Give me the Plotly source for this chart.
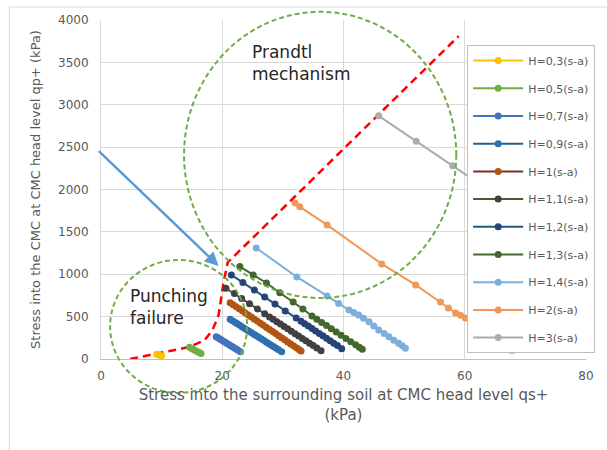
import plotly.graph_objects as go

# Stress into the surrounding soil qs+ (kPa) vs stress into the CMC qp+ (kPa)
H03_X = [9.2, 9.6, 10.0]
H03_Y = [55, 45, 38]
H05_X = [14.6, 15.0, 15.4, 15.8, 16.2, 16.5]
H05_Y = [138, 122, 105, 90, 76, 66]
H07_X = [19.0, 19.3, 19.6, 19.9, 20.2, 20.5, 20.8, 21.1, 21.4, 21.7, 22.0, 22.3, 22.6, 23.0]
H07_Y = [263, 250, 236, 223, 210, 197, 183, 170, 157, 144, 130, 117, 104, 86]
H09_X = [21.3, 21.7, 22.1, 22.5, 22.9, 23.3, 23.7, 24.1, 24.5, 24.9, 25.3, 25.7, 26.1,
         26.5, 26.9, 27.3, 27.7, 28.1, 28.5, 28.9, 29.3, 29.8]
H09_Y = [469, 451, 433, 415, 397, 379, 361, 343, 325, 307, 289, 271, 253,
         235, 217, 199, 181, 163, 145, 127, 109, 86]
H10_X = [21.3, 21.8, 22.3, 22.8, 23.3, 23.8, 24.3, 24.8, 25.3, 25.8, 26.3, 26.8, 27.3,
         27.8, 28.3, 28.8, 29.3, 29.8, 30.3, 30.8, 31.3, 31.8, 32.3, 32.7, 33.0]
H10_Y = [665, 641, 616, 592, 568, 543, 519, 495, 470, 446, 421, 397, 373,
         348, 324, 300, 275, 251, 227, 202, 178, 154, 130, 110, 95]
H11_X = [20.6, 22.0, 23.2, 24.5, 25.8, 27.0, 27.8, 28.4, 29.0, 29.6, 30.2, 30.8, 31.4,
         32.0, 32.6, 33.2, 33.8, 34.4, 35.0, 35.6, 36.3]
H11_Y = [835, 772, 713, 652, 591, 534, 497, 468, 440, 412, 384, 356, 327,
         299, 271, 243, 215, 186, 158, 130, 97]
H12_X = [21.5, 23.4, 25.3, 27.0, 28.7, 30.4, 32.2, 33.0, 33.6, 34.2, 34.8, 35.4, 36.0,
         36.6, 37.2, 37.8, 38.4, 39.0, 39.7]
H12_Y = [992, 903, 815, 732, 649, 567, 484, 446, 417, 388, 359, 330, 302,
         273, 244, 215, 186, 158, 122]
H13_X = [22.9, 25.1, 27.3, 29.5, 31.7, 33.3, 34.8, 35.6, 36.4, 37.2, 38.0, 38.8, 39.6,
         40.4, 41.2, 42.0, 42.6, 43.1]
H13_Y = [1090, 990, 897, 782, 673, 590, 508, 470, 432, 394, 357, 319, 281,
         243, 205, 167, 139, 115]
H14_X = [25.6, 32.3, 37.3, 39.2, 40.9, 41.7, 42.5, 43.3, 44.2, 45.0, 45.8, 46.7, 47.5,
         48.3, 49.1, 49.7, 50.2]
H14_Y = [1310, 968, 744, 655, 578, 549, 519, 480, 440, 390, 342, 300, 263,
         222, 185, 155, 126]
H20_X = [32.0, 32.8, 37.3, 46.3, 51.9, 56.0, 57.3, 58.5, 59.3, 60.1, 64.0, 67.8]
H20_Y = [1842, 1795, 1582, 1122, 874, 673, 602, 543, 515, 484, 300, 100]
H30_X = [45.8, 52.0, 58.0, 64.0, 70.0]
H30_Y = [2869, 2570, 2280, 1990, 1700]

# Boundary between punching failure and Prandtl mechanism
LIMIT_X = [4.8, 9.7, 14.6, 17.1, 18.4, 19.4, 19.9, 20.2, 20.9, 31.5, 59.0]
LIMIT_Y = [0, 71, 142, 224, 342, 520, 732, 897, 1140, 1880, 3810]

SERIES = [
    ("H=0,3(s-a)", H03_X, H03_Y, "#FFC000", "#FFC000"),
    ("H=0,5(s-a)", H05_X, H05_Y, "#70AD47", "#70AD47"),
    ("H=0,7(s-a)", H07_X, H07_Y, "#4472C4", "#4472C4"),
    ("H=0,9(s-a)", H09_X, H09_Y, "#255E91", "#2E70B0"),
    ("H=1(s-a)", H10_X, H10_Y, "#7B2C2C", "#B35410"),
    ("H=1,1(s-a)", H11_X, H11_Y, "#5A5233", "#404040"),
    ("H=1,2(s-a)", H12_X, H12_Y, "#1F5A7A", "#264478"),
    ("H=1,3(s-a)", H13_X, H13_Y, "#43682B", "#43682B"),
    ("H=1,4(s-a)", H14_X, H14_Y, "#7CAFDD", "#7CAFDD"),
    ("H=2(s-a)", H20_X, H20_Y, "#F1975A", "#F1975A"),
    ("H=3(s-a)", H30_X, H30_Y, "#ABABAB", "#ABABAB"),
]

X_RANGE = [0, 80]
Y_RANGE = [0, 4000]
FONT = "DejaVu Sans"
GREY = "#595959"


def frac_x(v):
    """Data value on the x axis -> fraction of the plotting area (single subplot)."""
    return (v - X_RANGE[0]) / (X_RANGE[1] - X_RANGE[0])


def frac_y(v):
    """Data value on the y axis -> fraction of the plotting area (single subplot)."""
    return (v - Y_RANGE[0]) / (Y_RANGE[1] - Y_RANGE[0])


fig = go.Figure()

fig.add_trace(go.Scatter(
    x=LIMIT_X, y=LIMIT_Y, mode="lines", showlegend=False, hoverinfo="skip",
    line=dict(color="#FF0000", width=2.5, dash="8px,5px"),
))

for i, (name, xs, ys, lc, mc) in enumerate(SERIES):
    fig.add_trace(go.Scatter(
        x=xs, y=ys, name=name, mode="lines+markers", legendgroup=f"g{i}",
        line=dict(color=lc, width=2),
        marker=dict(color=mc, size=7),
    ))

# Dashed zones: punching failure and Prandtl mechanism (may spill past the axes)
zones = [
    (1.5, 24.1, -401, 1169),
    (13.7, 58.6, 720, 4097),
]
for x0, x1, y0, y1 in zones:
    fig.add_shape(
        type="circle", xref="paper", yref="paper",
        x0=frac_x(x0), x1=frac_x(x1), y0=frac_y(y0), y1=frac_y(y1),
        line=dict(color="#70AD47", width=2, dash="5px,3px"), layer="above",
    )

# Outer chart frame
fig.add_shape(
    type="rect", xref="paper", yref="paper",
    x0=-0.189, x1=1.2, y0=-0.4, y1=1.038,
    line=dict(color="#D9D9D9", width=1), layer="below",
)

# Arrow towards the transition point
fig.add_annotation(
    x=19.4, y=1098, ax=-0.6, ay=2470, axref="x", ayref="y", xref="x", yref="y",
    text="", showarrow=True, arrowhead=2, arrowsize=1.1, arrowwidth=2.5,
    arrowcolor="#5B9BD5", standoff=0,
)

labels = [
    ("Prandtl<br>mechanism", 24.5, 3495),
    ("Punching<br>failure", 4.4, 608),
]
for txt, x, y in labels:
    fig.add_annotation(
        x=x, y=y, xref="x", yref="y", text=txt, showarrow=False,
        xanchor="left", yanchor="middle", align="left",
        font=dict(family=FONT, size=17, color="#262626"),
    )

fig.update_layout(
    width=607, height=450,
    margin=dict(l=101, r=18.5, t=20, b=91),
    paper_bgcolor="white", plot_bgcolor="white",
    font=dict(family=FONT, color=GREY),
    showlegend=True,
    legend=dict(
        x=0.755, y=0.926, xanchor="left", yanchor="top",
        bgcolor="white", bordercolor="#BFBFBF", borderwidth=1,
        font=dict(family=FONT, size=11, color=GREY),
        traceorder="grouped", tracegroupgap=8.7, itemwidth=50,
    ),
    xaxis=dict(
        range=X_RANGE, dtick=20, tick0=0,
        showgrid=True, gridcolor="#D9D9D9", gridwidth=1,
        zeroline=False, showline=True, linecolor="#BFBFBF", linewidth=1,
        tickfont=dict(family=FONT, size=12, color=GREY),
        ticklabelstandoff=6,
        title=dict(
            text="Stress into the surrounding soil at CMC head level qs+<br>(kPa)",
            font=dict(family=FONT, size=15, color=GREY), standoff=7,
        ),
    ),
    yaxis=dict(
        range=Y_RANGE, dtick=500, tick0=0,
        showgrid=True, gridcolor="#D9D9D9", gridwidth=1,
        zeroline=False, showline=True, linecolor="#D9D9D9", linewidth=1,
        tickfont=dict(family=FONT, size=12, color=GREY),
        ticklabelstandoff=9,
        title=dict(
            text="Stress into the CMC at CMC head level qp+ (kPa)",
            font=dict(family=FONT, size=13, color=GREY), standoff=14,
        ),
    ),
)

fig.write_html("out.html")
